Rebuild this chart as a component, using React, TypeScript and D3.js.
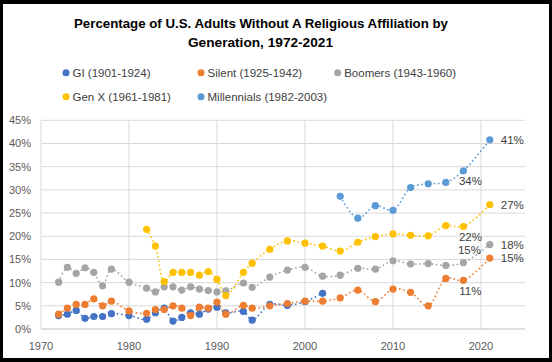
import React from "react";
import * as d3 from "d3";

const years = [1972, 1973, 1974, 1975, 1976, 1977, 1978, 1980, 1982, 1983, 1984, 1985, 1986, 1987, 1988, 1989, 1990, 1991, 1993, 1994, 1996, 1998, 2000, 2002, 2004, 2006, 2008, 2010, 2012, 2014, 2016, 2018, 2021];

const giValues: (number | null)[] = [2.9, 3.2, 4.0, 2.3, 2.7, 2.7, 3.3, 2.9, 2.1, 3.5, 4.5, 1.7, 2.5, 3.5, 3.2, 4.3, 4.7, 3.5, 3.8, 1.9, 5.3, 5.1, 5.9, 7.7, null, null, null, null, null, null, null, null, null];
const silentValues: (number | null)[] = [3.2, 4.5, 5.3, 5.3, 6.5, 5.0, 6.0, 3.9, 3.4, 4.2, 4.2, 5.0, 4.5, 2.9, 4.7, 4.5, 5.8, 3.2, 5.1, 4.5, 5.0, 5.5, 6.0, 6.0, 6.7, 8.4, 5.9, 8.6, 7.9, 5.0, 10.9, 10.5, 15.3];
const boomersValues: (number | null)[] = [10.1, 13.3, 12.0, 13.2, 12.2, 9.3, 12.9, 10.1, 8.8, 8.0, 9.1, 9.1, 8.4, 9.1, 8.6, 8.3, 8.0, 8.2, 9.9, 9.0, 11.2, 12.7, 13.3, 11.4, 11.6, 13.1, 12.9, 14.7, 14.0, 14.1, 13.7, 14.3, 18.2];
const genXValues: (number | null)[] = [null, null, null, null, null, null, null, null, 21.5, 17.9, 10.2, 12.2, 12.2, 12.2, 11.6, 12.4, 10.7, 7.2, 12.2, 14.2, 17.2, 19.0, 18.5, 17.9, 16.8, 18.7, 19.9, 20.5, 20.2, 20.1, 22.3, 22.1, 26.8];
const millennialsValues: (number | null)[] = [null, null, null, null, null, null, null, null, null, null, null, null, null, null, null, null, null, null, null, null, null, null, null, null, 28.6, 23.9, 26.6, 25.6, 30.5, 31.3, 31.6, 34.1, 40.8];

const seriesNames = ["GI (1901-1924)", "Silent (1925-1942)", "Boomers (1943-1960)", "Gen X (1961-1981)", "Millennials (1982-2003)"];
const seriesColors = ["#4472C4", "#ED7D31", "#A5A5A5", "#FFC000", "#5B9BD5"];
const seriesValues = [giValues, silentValues, boomersValues, genXValues, millennialsValues];

const xTicks = [1970, 1980, 1990, 2000, 2010, 2020];
const yTicks = [0, 5, 10, 15, 20, 25, 30, 35, 40, 45];

// data labels: series index, year, text, placement
const dataLabels: { s: number; year: number; text: string; pos: string }[] = [
  { s: 4, year: 2021, text: "41%", pos: "right" },
  { s: 4, year: 2018, text: "34%", pos: "below" },
  { s: 3, year: 2021, text: "27%", pos: "right" },
  { s: 3, year: 2018, text: "22%", pos: "below" },
  { s: 2, year: 2021, text: "18%", pos: "right" },
  { s: 2, year: 2018, text: "15%", pos: "above" },
  { s: 1, year: 2021, text: "15%", pos: "right" },
  { s: 1, year: 2018, text: "11%", pos: "below" },
];

const W = 552;
const H = 362;
const FONT = "'Liberation Sans', Arial, sans-serif";

export default function App() {
  const x = d3.scaleLinear().domain([1970, 2025]).range([41, 525]);
  const y = d3.scaleLinear().domain([0, 45]).range([329, 120.3]);

  const line = d3
    .line<[number, number | null]>()
    .defined((d) => d[1] !== null)
    .x((d) => x(d[0]))
    .y((d) => y(d[1] as number))
    .curve(d3.curveCatmullRom.alpha(0.5));

  const legendItems = [
    { i: 0, mx: 66, ty: 72.7 },
    { i: 1, mx: 201, ty: 72.7 },
    { i: 2, mx: 337.7, ty: 72.7 },
    { i: 3, mx: 66, ty: 96.7 },
    { i: 4, mx: 201, ty: 96.7 },
  ];

  return (
    <svg width={W} height={H} style={{ position: "absolute", left: 0, top: 0 }} fontFamily={FONT}>
      <rect x={0} y={0} width={W} height={H} fill="#000" />
      <rect x={3} y={4} width={W - 6} height={H - 8} fill="#fff" />

      <text x={261} y={27.5} textAnchor="middle" fontSize={13.5} fontWeight="bold" fill="#000" textLength={374} lengthAdjust="spacingAndGlyphs">
        Percentage of U.S. Adults Without A Religious Affiliation by
      </text>
      <text x={260.5} y={47} textAnchor="middle" fontSize={13.5} fontWeight="bold" fill="#000" textLength={145} lengthAdjust="spacingAndGlyphs">
        Generation, 1972-2021
      </text>

      {legendItems.map((l) => (
        <g key={l.i}>
          <circle cx={l.mx} cy={l.ty} r={3.5} fill={seriesColors[l.i]} />
          <text x={l.mx + 6.5} y={l.ty + 4} fontSize={11.5} fill="#404040">
            {seriesNames[l.i]}
          </text>
        </g>
      ))}

      {yTicks.map((t) => (
        <g key={"y" + t}>
          <line x1={41} x2={525} y1={y(t)} y2={y(t)} stroke={t === 0 ? "#bfbfbf" : "#d9d9d9"} strokeWidth={1} />
          <text x={31} y={y(t) + 4} textAnchor="end" fontSize={11} fill="#595959">
            {t + "%"}
          </text>
        </g>
      ))}
      {xTicks.map((t) => (
        <g key={"x" + t}>
          <line x1={x(t)} x2={x(t)} y1={y(0)} y2={y(45)} stroke="#d9d9d9" strokeWidth={1} />
          <text x={x(t)} y={350} textAnchor="middle" fontSize={11} fill="#595959">
            {t}
          </text>
        </g>
      ))}

      {seriesValues.map((vals, si) => {
        const pts: [number, number | null][] = years.map((yr, k) => [yr, vals[k]]);
        return (
          <g key={"s" + si}>
            <path d={line(pts) || ""} fill="none" stroke={seriesColors[si]} strokeWidth={1.6} strokeDasharray="1.6 2.6" />
            {pts
              .filter((p) => p[1] !== null)
              .map((p) => (
                <circle key={p[0]} cx={x(p[0])} cy={y(p[1] as number)} r={3.6} fill={seriesColors[si]} />
              ))}
          </g>
        );
      })}

      {dataLabels.map((d, k) => {
        const idx = years.indexOf(d.year);
        const v = seriesValues[d.s][idx] as number;
        const px = x(d.year);
        const py = y(v);
        let tx = px;
        let ty = py;
        let anchor: "start" | "middle" = "middle";
        if (d.pos === "right") {
          tx = px + 11;
          ty = py + 4;
          anchor = "start";
        } else if (d.pos === "below") {
          tx = px + 7;
          ty = py + 14.5;
        } else {
          tx = px + 6;
          ty = py - 9;
        }
        return (
          <text key={"dl" + k} x={tx} y={ty} textAnchor={anchor} fontSize={11.5} fill="#404040">
            {d.text}
          </text>
        );
      })}
    </svg>
  );
}
